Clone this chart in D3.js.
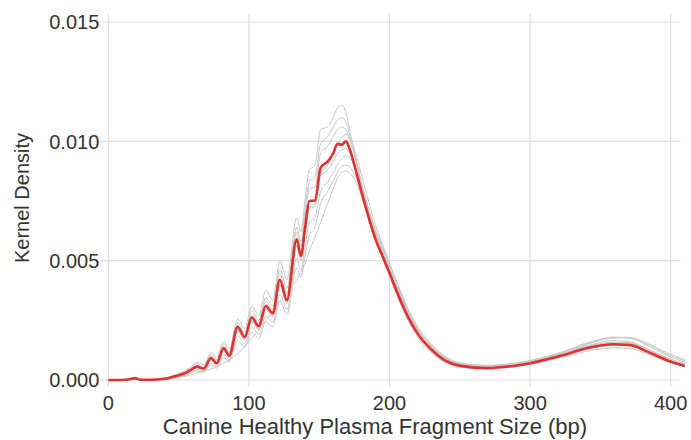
<!DOCTYPE html>
<html>
<head>
<meta charset="utf-8">
<script src="https://cdn.jsdelivr.net/npm/d3@7"></script>
<style>
  html, body { margin: 0; padding: 0; background: #fff; }
  svg text { font-family: "Liberation Sans", Arial, sans-serif; fill: #333; }
</style>
</head>
<body>
<svg id="chart" width="691" height="440"></svg>
<script>
// fragment size grid (bp) shared by every sample
const bp = [0, 10, 15, 19, 23, 30, 40, 45, 50, 55,
  58, 63, 68, 73, 77, 82, 86, 92, 97, 102,
  107, 112, 117, 122, 127, 134, 137, 140, 143, 147,
  151, 156, 160, 163, 166, 169, 172, 176, 180, 186,
  190, 195, 200, 207, 214, 221, 229, 240, 252, 269,
  288, 300, 324, 340, 359, 371, 383, 397, 410];

// highlighted (mean) sample
const redDensity = [0, 0, 0.00003, 0.00008, 0.00001, 0.00001, 0.00005, 0.00012, 0.00020, 0.00030,
  0.00040, 0.00056, 0.00048, 0.00092, 0.00070, 0.00133, 0.00102, 0.00222, 0.00180, 0.00262,
  0.00225, 0.00310, 0.00280, 0.00420, 0.00335, 0.00590, 0.00520, 0.00640, 0.00750, 0.00752,
  0.00890, 0.00915, 0.00950, 0.00990, 0.00985, 0.01000, 0.00962, 0.00880, 0.00790, 0.00665,
  0.00590, 0.00520, 0.00448, 0.00345, 0.00255, 0.00185, 0.00132, 0.00080, 0.00058, 0.00050,
  0.00059, 0.00070, 0.00105, 0.00133, 0.00150, 0.00147, 0.00120, 0.00084, 0.00059];

// individual healthy samples (grey)
const grey1 = [0, 0, 0.00003, 0.00007, 0.00002, 0.00002, 0.00008, 0.00016, 0.00026, 0.00040,
  0.00052, 0.00075, 0.00065, 0.00115, 0.00095, 0.00160, 0.00130, 0.00255, 0.00215, 0.00310,
  0.00270, 0.00375, 0.00335, 0.00500, 0.00420, 0.00680, 0.00620, 0.00760, 0.00880, 0.00900,
  0.01050, 0.01060, 0.01100, 0.01140, 0.01150, 0.01120, 0.01040, 0.00930, 0.00810, 0.00670,
  0.00590, 0.00510, 0.00435, 0.00330, 0.00240, 0.00172, 0.00120, 0.00072, 0.00052, 0.00045,
  0.00055, 0.00066, 0.00100, 0.00128, 0.00145, 0.00142, 0.00116, 0.00080, 0.00056];
const grey2 = [0, 0, 0.00002, 0.00006, 0.00001, 0.00002, 0.00007, 0.00014, 0.00023, 0.00036,
  0.00047, 0.00068, 0.00058, 0.00105, 0.00085, 0.00150, 0.00120, 0.00240, 0.00200, 0.00290,
  0.00250, 0.00345, 0.00310, 0.00465, 0.00385, 0.00640, 0.00580, 0.00720, 0.00830, 0.00850,
  0.00990, 0.01020, 0.01060, 0.01090, 0.01100, 0.01080, 0.01020, 0.00930, 0.00830, 0.00700,
  0.00620, 0.00545, 0.00470, 0.00365, 0.00270, 0.00198, 0.00142, 0.00088, 0.00063, 0.00055,
  0.00064, 0.00076, 0.00114, 0.00148, 0.00180, 0.00176, 0.00145, 0.00104, 0.00074];
const grey3 = [0, 0, 0.00003, 0.00007, 0.00002, 0.00002, 0.00006, 0.00013, 0.00021, 0.00032,
  0.00043, 0.00060, 0.00052, 0.00098, 0.00078, 0.00140, 0.00110, 0.00230, 0.00190, 0.00275,
  0.00238, 0.00330, 0.00295, 0.00445, 0.00360, 0.00620, 0.00560, 0.00690, 0.00800, 0.00810,
  0.00950, 0.00980, 0.01020, 0.01050, 0.01060, 0.01050, 0.01000, 0.00920, 0.00820, 0.00690,
  0.00610, 0.00535, 0.00460, 0.00355, 0.00262, 0.00190, 0.00135, 0.00082, 0.00058, 0.00050,
  0.00060, 0.00072, 0.00110, 0.00142, 0.00165, 0.00160, 0.00132, 0.00094, 0.00066];
const grey4 = [0, 0, 0.00002, 0.00005, 0.00001, 0.00001, 0.00004, 0.00010, 0.00017, 0.00026,
  0.00035, 0.00050, 0.00044, 0.00082, 0.00065, 0.00122, 0.00095, 0.00205, 0.00168, 0.00245,
  0.00212, 0.00295, 0.00265, 0.00400, 0.00325, 0.00560, 0.00510, 0.00620, 0.00720, 0.00740,
  0.00860, 0.00900, 0.00950, 0.00990, 0.01015, 0.01030, 0.01010, 0.00950, 0.00860, 0.00730,
  0.00650, 0.00570, 0.00490, 0.00380, 0.00282, 0.00205, 0.00146, 0.00090, 0.00066, 0.00058,
  0.00068, 0.00080, 0.00118, 0.00150, 0.00175, 0.00178, 0.00155, 0.00115, 0.00085];
const grey5 = [0, 0, 0.00003, 0.00008, 0.00001, 0.00001, 0.00005, 0.00011, 0.00019, 0.00028,
  0.00037, 0.00052, 0.00046, 0.00086, 0.00068, 0.00125, 0.00098, 0.00212, 0.00172, 0.00250,
  0.00215, 0.00298, 0.00268, 0.00400, 0.00322, 0.00565, 0.00500, 0.00615, 0.00720, 0.00725,
  0.00855, 0.00880, 0.00915, 0.00950, 0.00965, 0.00970, 0.00945, 0.00870, 0.00785, 0.00660,
  0.00588, 0.00518, 0.00446, 0.00344, 0.00254, 0.00184, 0.00131, 0.00078, 0.00056, 0.00048,
  0.00057, 0.00068, 0.00102, 0.00130, 0.00146, 0.00143, 0.00117, 0.00082, 0.00057];
const grey6 = [0, 0, 0.00002, 0.00005, 0.00001, 0.00001, 0.00004, 0.00009, 0.00015, 0.00023,
  0.00031, 0.00044, 0.00039, 0.00072, 0.00058, 0.00108, 0.00086, 0.00185, 0.00152, 0.00222,
  0.00192, 0.00268, 0.00242, 0.00360, 0.00295, 0.00510, 0.00460, 0.00560, 0.00660, 0.00680,
  0.00790, 0.00830, 0.00870, 0.00905, 0.00930, 0.00940, 0.00930, 0.00880, 0.00810, 0.00700,
  0.00630, 0.00560, 0.00485, 0.00378, 0.00282, 0.00207, 0.00150, 0.00094, 0.00068, 0.00060,
  0.00068, 0.00078, 0.00112, 0.00140, 0.00158, 0.00156, 0.00130, 0.00094, 0.00068];
const grey7 = [0, 0, 0.00002, 0.00004, 0.00001, 0.00001, 0.00003, 0.00008, 0.00013, 0.00020,
  0.00027, 0.00038, 0.00034, 0.00062, 0.00050, 0.00095, 0.00076, 0.00165, 0.00136, 0.00200,
  0.00175, 0.00245, 0.00222, 0.00330, 0.00275, 0.00470, 0.00430, 0.00520, 0.00610, 0.00640,
  0.00740, 0.00790, 0.00835, 0.00870, 0.00895, 0.00900, 0.00890, 0.00850, 0.00790, 0.00690,
  0.00625, 0.00558, 0.00488, 0.00385, 0.00290, 0.00215, 0.00157, 0.00098, 0.00070, 0.00062,
  0.00070, 0.00082, 0.00120, 0.00155, 0.00178, 0.00176, 0.00150, 0.00110, 0.00080];
const grey8 = [0, 0, 0.00001, 0.00002, 0.00001, 0.00001, 0.00003, 0.00006, 0.00010, 0.00016,
  0.00021, 0.00030, 0.00036, 0.00046, 0.00055, 0.00070, 0.00084, 0.00110, 0.00140, 0.00175,
  0.00210, 0.00250, 0.00290, 0.00330, 0.00370, 0.00420, 0.00450, 0.00490, 0.00540, 0.00600,
  0.00660, 0.00740, 0.00800, 0.00845, 0.00870, 0.00875, 0.00865, 0.00830, 0.00770, 0.00675,
  0.00610, 0.00540, 0.00470, 0.00368, 0.00275, 0.00202, 0.00146, 0.00090, 0.00062, 0.00052,
  0.00058, 0.00068, 0.00096, 0.00120, 0.00134, 0.00132, 0.00110, 0.00078, 0.00056];
const greySamples = [grey1, grey2, grey3, grey4, grey5, grey6, grey7, grey8];

const xTicks = [0, 100, 200, 300, 400];
const yTicks = [0, 0.005, 0.010, 0.015];
const xTitle = "Canine Healthy Plasma Fragment Size (bp)";
const yTitle = "Kernel Density";

const svg = d3.select("#chart");

const x = d3.scaleLinear().domain([0, 400]).range([108.3, 670.7]);
const y = d3.scaleLinear().domain([0, 0.015]).range([380, 22]);

// grid
const grid = svg.append("g").attr("class", "grid");
grid.selectAll("line.v")
  .data(xTicks)
  .enter()
  .append("line")
  .attr("x1", d => x(d)).attr("x2", d => x(d))
  .attr("y1", y(0.01534)).attr("y2", y(0) + 7)
  .attr("stroke", "#dedede").attr("stroke-width", 1.2);
grid.selectAll("line.h")
  .data(yTicks)
  .enter()
  .append("line")
  .attr("x1", x(0) - 8).attr("x2", x(407))
  .attr("y1", d => y(d)).attr("y2", d => y(d))
  .attr("stroke", "#dedede").attr("stroke-width", 1.2);

// tick labels
svg.append("g").selectAll("text")
  .data(yTicks)
  .enter()
  .append("text")
  .attr("x", x(0) - 9)
  .attr("y", d => y(d))
  .attr("dy", "0.36em")
  .attr("text-anchor", "end")
  .style("font-size", "20px")
  .text(d => d3.format(".3f")(d));

svg.append("g").selectAll("text")
  .data(xTicks)
  .enter()
  .append("text")
  .attr("x", d => x(d))
  .attr("y", 410)
  .attr("text-anchor", "middle")
  .style("font-size", "20px")
  .text(d => d);

// axis titles
svg.append("text")
  .attr("x", 375)
  .attr("y", 434)
  .attr("text-anchor", "middle")
  .style("font-size", "22px")
  .text(xTitle);

svg.append("text")
  .attr("transform", "translate(29,198) rotate(-90)")
  .attr("text-anchor", "middle")
  .style("font-size", "20px")
  .text(yTitle);

// curves
const line = d3.line()
  .x((d, i) => x(bp[i]))
  .y(d => y(d))
  .curve(d3.curveMonotoneX);

svg.append("g").selectAll("path")
  .data(greySamples)
  .enter()
  .append("path")
  .attr("d", d => line(d))
  .attr("fill", "none")
  .attr("stroke", "#c8c8c8")
  .attr("stroke-width", 1);

svg.append("path")
  .attr("d", line(redDensity))
  .attr("fill", "none")
  .attr("stroke", "#e0312f")
  .attr("stroke-width", 2.6)
  .attr("stroke-linejoin", "round");
</script>
</body>
</html>
